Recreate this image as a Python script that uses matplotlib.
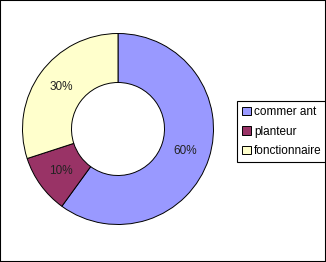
import matplotlib.pyplot as plt
from matplotlib.patches import Rectangle

plt.rcParams['font.family'] = ['Liberation Sans', 'DejaVu Sans']

categories = ["commer ant", "planteur", "fonctionnaire"]
values = [60, 10, 30]
colors = ['#9999FF', '#993366', '#FFFFCC']

W, H = 326, 262
fig = plt.figure(figsize=(W / 100, H / 100), dpi=100)
ax = fig.add_axes([0, 0, 1, 1])

wedges, texts, autotexts = ax.pie(
    values, colors=colors, startangle=90, counterclock=False,
    center=(118, H - 129), radius=95.5,
    autopct='%1.0f%%', pctdistance=0.74,
    wedgeprops=dict(width=49, edgecolor='black', linewidth=0.7),
    textprops=dict(fontsize=8.5, color='#222222'))

ax.set_xlim(0, W)
ax.set_ylim(0, H)
ax.set_aspect('equal')
ax.axis('off')

leg = ax.legend(wedges, categories, loc='upper left',
                bbox_to_anchor=(237 / W, 1 - 101 / H), bbox_transform=fig.transFigure,
                fancybox=False, framealpha=1, edgecolor='black', fontsize=8.5,
                handlelength=0.7, handleheight=0.7, handletextpad=0.3,
                borderpad=0.45, labelspacing=0.62, borderaxespad=0)
leg.get_frame().set_linewidth(0.8)

# cadre autour de l'image
fig.patches.append(Rectangle((0, 0), 1, 1, transform=fig.transFigure, fill=False,
                             edgecolor='black', linewidth=1.5))

fig.savefig('out.png', dpi=100)
